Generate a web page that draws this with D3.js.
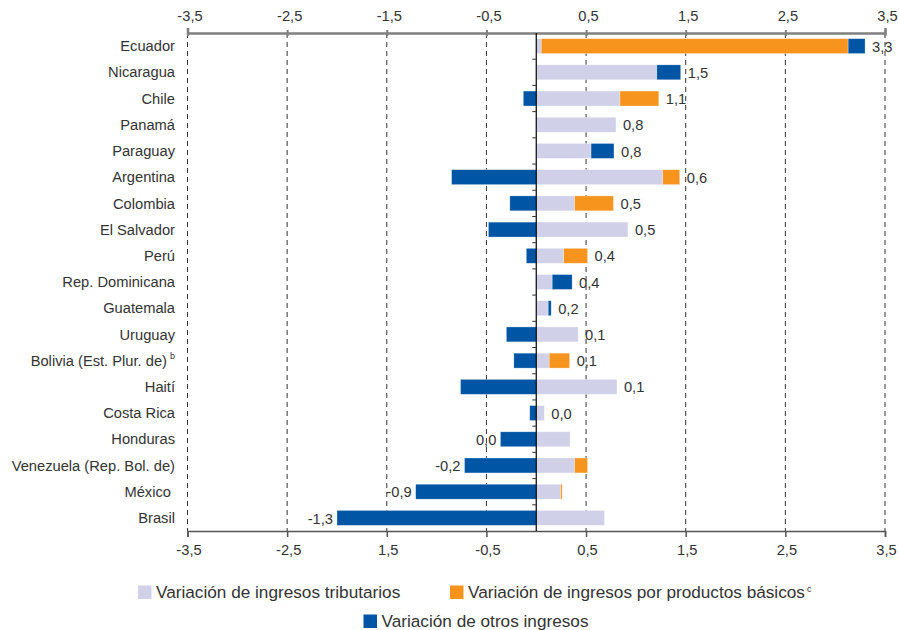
<!DOCTYPE html>
<html>
<head>
<meta charset="utf-8">
<script src="https://cdn.jsdelivr.net/npm/d3@7"></script>
<style>
  body { margin: 0; background: #fff; }
  text { font-family: "Liberation Sans", Arial, sans-serif; fill: #333; }
</style>
</head>
<body>
<script>
// data
var countries = ["Ecuador", "Nicaragua", "Chile", "Panamá", "Paraguay", "Argentina", "Colombia",
  "El Salvador", "Perú", "Rep. Dominicana", "Guatemala", "Uruguay", "Bolivia (Est. Plur. de)",
  "Haití", "Costa Rica", "Honduras", "Venezuela (Rep. Bol. de)", "México", "Brasil"];
var tributarios = [0.05, 1.21, 0.84, 0.80, 0.55, 1.27, 0.385, 0.92, 0.275, 0.16, 0.12, 0.42, 0.13, 0.81, 0.08, 0.34, 0.385, 0.245, 0.685];
var productos   = [3.08, 0, 0.39, 0, 0, 0.17, 0.39, 0, 0.24, 0, 0, 0, 0.205, 0, 0, 0, 0.13, 0.015, 0];
var otros       = [0.17, 0.24, -0.13, 0, 0.23, -0.85, -0.265, -0.48, -0.10, 0.20, 0.03, -0.30, -0.225, -0.76, -0.065, -0.36, -0.72, -1.21, -2.0];
var totalLabels = ["3,3", "1,5", "1,1", "0,8", "0,8", "0,6", "0,5", "0,5", "0,4", "0,4", "0,2", "0,1", "0,1", "0,1", "0,0", "0,0", "-0,2", "-0,9", "-1,3"];
var tickValues = [-3.5, -2.5, -1.5, -0.5, 0.5, 1.5, 2.5, 3.5];
var topTickLabels = ["-3,5", "-2,5", "-1,5", "-0,5", "0,5", "1,5", "2,5", "3,5"];
var bottomTickLabels = ["-3,5", "-2,5", "1,5", "-0,5", "0,5", "1,5", "2,5", "3,5"];

var keys = ["tributarios", "productos", "otros"];
var colors = { tributarios: "#d0d0e8", productos: "#f7941e", otros: "#0055a5" };

var width = 899, height = 630;
var top0 = 33, bottom0 = 531;

var x = d3.scaleLinear().domain([-3.5, 3.5]).range([187.5, 885]);
var y = d3.scaleBand().domain(countries).range([top0, bottom0]).paddingInner(0.43).paddingOuter(0.215);

var rows = countries.map(function(c, i) {
  return { country: c, tributarios: tributarios[i], productos: productos[i], otros: otros[i], label: totalLabels[i] };
});

var series = d3.stack().keys(keys).offset(d3.stackOffsetDiverging)(rows);

var svg = d3.select("body").append("svg")
    .attr("width", width)
    .attr("height", height);

// dashed grid lines
svg.append("g").selectAll("line")
    .data(tickValues)
  .enter().append("line")
    .attr("x1", function(d) { return x(d); })
    .attr("x2", function(d) { return x(d); })
    .attr("y1", top0)
    .attr("y2", bottom0)
    .attr("stroke", "#333")
    .attr("stroke-width", 1)
    .attr("stroke-dasharray", "5,4");

// top axis
var topAxis = svg.append("g")
    .attr("transform", "translate(0," + top0 + ")")
    .call(d3.axisTop(x).tickValues(tickValues).tickSize(5).tickFormat(function(d, i) { return topTickLabels[i]; }));
topAxis.select(".domain").attr("stroke", "#808080").attr("stroke-width", 2.5);
topAxis.selectAll(".tick line").attr("stroke", "#808080").attr("stroke-width", 2).attr("y2", 3).attr("y1", -3);
topAxis.selectAll(".tick text").attr("font-size", 14.7).attr("fill", "#333").attr("y", -12).attr("dx", 2)
    .style("font-family", "Liberation Sans, Arial, sans-serif");

// bottom axis
var bottomAxis = svg.append("g")
    .attr("transform", "translate(0," + bottom0 + ")")
    .call(d3.axisBottom(x).tickValues(tickValues).tickSize(6).tickFormat(function(d, i) { return bottomTickLabels[i]; }));
bottomAxis.select(".domain").attr("stroke", "#555").attr("stroke-width", 1.5);
bottomAxis.selectAll(".tick line").attr("stroke", "#555").attr("stroke-width", 1.5);
bottomAxis.selectAll(".tick text").attr("font-size", 14.7).attr("fill", "#333").attr("y", 14).attr("dx", 1)
    .style("font-family", "Liberation Sans, Arial, sans-serif");

// bars
svg.append("g").selectAll("g")
    .data(series)
  .enter().append("g")
    .attr("fill", function(d) { return colors[d.key]; })
  .selectAll("rect")
    .data(function(d) { return d; })
  .enter().append("rect")
    .attr("x", function(d) { return x(Math.min(d[0], d[1])); })
    .attr("width", function(d) { return Math.abs(x(d[1]) - x(d[0])); })
    .attr("y", function(d) { return y(d.data.country); })
    .attr("height", y.bandwidth())
    .attr("stroke", "#fff")
    .attr("stroke-opacity", 0.5)
    .attr("stroke-width", 0.6);

// zero line with small category ticks
svg.append("line")
    .attr("x1", x(0)).attr("x2", x(0))
    .attr("y1", top0).attr("y2", bottom0)
    .attr("stroke", "#000").attr("stroke-width", 1.2);
svg.append("g").selectAll("line")
    .data(countries.slice(1))
  .enter().append("line")
    .attr("x1", x(0) - 4).attr("x2", x(0))
    .attr("y1", function(d) { return y(d) - y.step() * y.paddingInner() / 2; })
    .attr("y2", function(d) { return y(d) - y.step() * y.paddingInner() / 2; })
    .attr("stroke", "#333").attr("stroke-width", 1);

// total labels
svg.append("g").selectAll("text")
    .data(rows)
  .enter().append("text")
    .attr("font-size", 14.7)
    .attr("dy", "0.35em")
    .attr("y", function(d) { return y(d.country) + y.bandwidth() / 2 + 0.5; })
    .attr("x", function(d) {
      var total = d.tributarios + d.productos + d.otros;
      if (total < 0) return x(Math.min(0, d.otros) + Math.min(0, d.tributarios)) - 4;
      return x(d.tributarios + d.productos + Math.max(0, d.otros)) + 7;
    })
    .attr("text-anchor", function(d) { return d.tributarios + d.productos + d.otros < 0 ? "end" : "start"; })
    .text(function(d) { return d.label; });

// country names
var names = svg.append("g").selectAll("text")
    .data(countries)
  .enter().append("text")
    .attr("font-size", 14.7)
    .attr("text-anchor", "end")
    .attr("x", function(d) { return d === "México" ? 171 : 175; })
    .attr("y", function(d) { return y(d) + y.bandwidth() / 2; })
    .attr("dy", "0.35em")
    .text(function(d) { return d; });
names.filter(function(d) { return d.indexOf("Bolivia") === 0; })
  .append("tspan").attr("font-size", 9).attr("dy", "-0.7em").attr("dx", 3).text("b");

// legend
var legendItems = [
  { key: "tributarios", text: "Variación de ingresos tributarios", x: 138, y: 592, sup: "" },
  { key: "productos", text: "Variación de ingresos por productos básicos", x: 450, y: 592, sup: "c" },
  { key: "otros", text: "Variación de otros ingresos", x: 363.5, y: 621, sup: "" }
];
var legend = svg.append("g").selectAll("g")
    .data(legendItems)
  .enter().append("g")
    .attr("transform", function(d) { return "translate(" + d.x + "," + d.y + ")"; });
legend.append("rect")
    .attr("x", 0).attr("y", -6.5)
    .attr("width", 13.5).attr("height", 13.5)
    .attr("fill", function(d) { return colors[d.key]; });
var lt = legend.append("text")
    .attr("x", 18)
    .attr("dy", "0.35em")
    .attr("font-size", 17.2)
    .text(function(d) { return d.text; });
lt.filter(function(d) { return d.sup; })
  .append("tspan").attr("font-size", 9).attr("dx", 2).attr("dy", "-0.7em").text(function(d) { return d.sup; });
</script>
</body>
</html>
